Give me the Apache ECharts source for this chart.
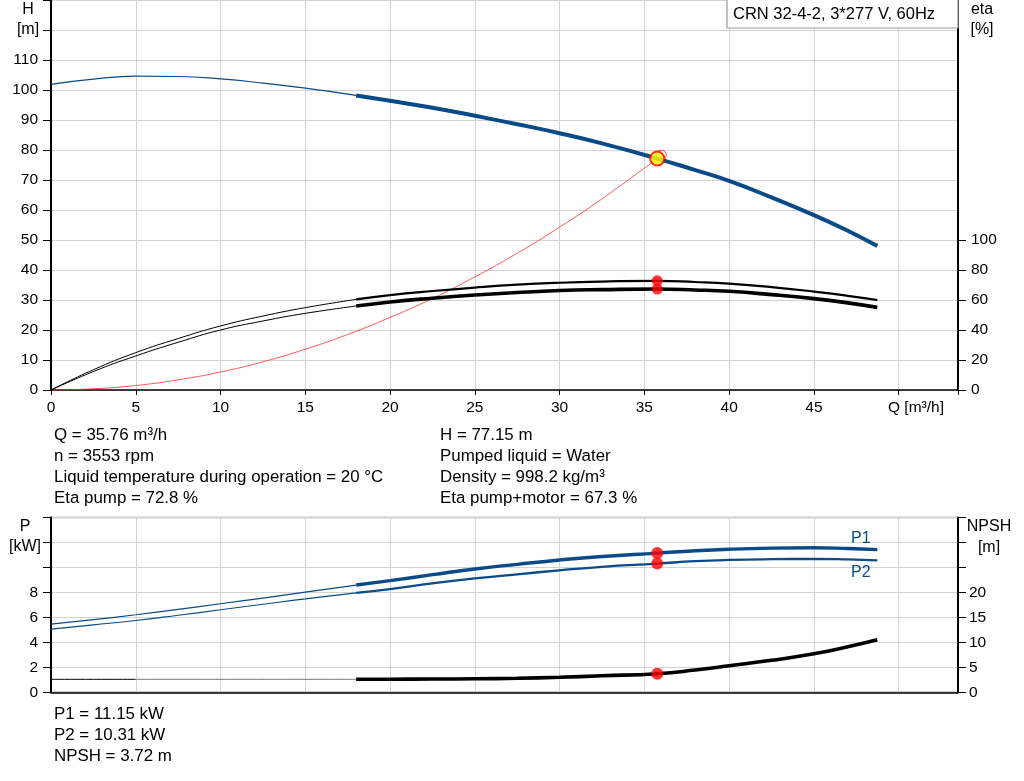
<!DOCTYPE html>
<html><head><meta charset="utf-8">
<script src="https://cdn.jsdelivr.net/npm/echarts@6/dist/echarts.min.js"></script>
<style>html,body{margin:0;padding:0;background:#fff}#c{width:1024px;height:781px}</style>
</head><body><div id="c"></div>
<script>
// ---- data ----
const qThin  = [0, 2.5, 5, 7.5, 10, 12.5, 15, 18];
const qThick = [18, 20, 22.5, 25, 27.5, 30, 32.5, 35.76, 38, 40, 42.5, 45, 47, 48.74];

const hThin  = [101.9, 103.6, 104.6, 104.5, 103.7, 102.3, 100.6, 98.2];
const hThick = [98.2, 96.4, 94.1, 91.4, 88.6, 85.6, 82.2, 77.15, 73.3, 69.7, 64.2, 58.3, 53.1, 48.0];

const etaPumpThin  = [0, 13.5, 24.9, 34.3, 42.7, 49.3, 54.9, 60.4];
const etaPumpThick = [60.4, 63.3, 66.0, 68.3, 70.2, 71.5, 72.3, 72.8, 72.0, 70.9, 68.6, 65.6, 62.8, 60.0];
const etaTotThin   = [0, 12.3, 22.7, 31.8, 40.0, 46.0, 51.1, 56.0];
const etaTotThick  = [56.0, 58.7, 61.2, 63.3, 65.0, 66.3, 66.9, 67.3, 66.7, 65.8, 63.6, 60.9, 58.1, 55.1];

const qSys = [0, 2.5, 5, 7.5, 10, 12.5, 15, 17.5, 20, 22.5, 25, 27.5, 30, 32.5, 35.76];
const hSys = [0, 0.4, 1.5, 3.4, 6.0, 9.4, 13.6, 18.5, 24.2, 30.5, 37.7, 45.6, 54.3, 63.7, 77.15];

const p1Thin  = [5.46, 5.82, 6.21, 6.64, 7.09, 7.55, 8.03, 8.59];
const p1Thick = [8.59, 8.94, 9.42, 9.88, 10.25, 10.6, 10.88, 11.15, 11.34, 11.46, 11.55, 11.58, 11.52, 11.43];
const p2Thin  = [5.06, 5.4, 5.75, 6.17, 6.61, 7.05, 7.49, 7.97];
const p2Thick = [7.97, 8.27, 8.72, 9.12, 9.45, 9.77, 10.05, 10.31, 10.5, 10.6, 10.66, 10.68, 10.64, 10.57];

const qNpshA = [0, 5],  npshA = [2.6, 2.6];
const qNpshB = [5, 18], npshB = [2.6, 2.6];
const npshThick = [2.6, 2.62, 2.65, 2.7, 2.8, 3.0, 3.3, 3.72, 4.45, 5.3, 6.4, 7.7, 9.1, 10.5];

const dutyQ = 35.76, dutyH = 77.15, dutyEtaPump = 72.8, dutyEtaTot = 67.3;
const dutyP1 = 11.15, dutyP2 = 10.31, dutyNpsh = 3.72;
const ghostPoint = [36.0, 78.3];

const xTickLabels = [0, 5, 10, 15, 20, 25, 30, 35, 40, 45];
const hTickLabelMax = 110;
const etaTicks = [0, 20, 40, 60, 80, 100];
const pTickLabelMax = 8;
const npshTickLabelMax = 20;

const infoLeft  = ['Q = 35.76 m³/h', 'n = 3553 rpm', 'Liquid temperature during operation = 20 °C', 'Eta pump = 72.8 %'];
const infoRight = ['H = 77.15 m', 'Pumped liquid = Water', 'Density = 998.2 kg/m³', 'Eta pump+motor = 67.3 %'];
const infoBottom = ['P1 = 11.15 kW', 'P2 = 10.31 kW', 'NPSH = 3.72 m'];
const titleText = 'CRN 32-4-2, 3*277 V, 60Hz';

// ---- chart ----
const FONT = 'Liberation Sans, Arial, sans-serif';
const BLUE = '#0b4a88';
const GRID = '#d3d3d3';
const zip = (xs, ys) => xs.map((x, i) => [x, ys[i]]);

function line(name, xs, ys, color, width, xi, yi, z) {
  return { type: 'line', name, data: zip(xs, ys), xAxisIndex: xi, yAxisIndex: yi,
    showSymbol: false, symbol: 'none', smooth: 0.5,
    lineStyle: { color, width }, z: z || 2, silent: true };
}

const xBase = {
  type: 'value', min: 0, max: 53.5, interval: 5,
  axisLine: { show: true, onZero: false, lineStyle: { color: '#000', width: 1.5 } },
  splitLine: { show: true, lineStyle: { color: GRID, width: 1 } }
};

const option = {
  animation: false,
  backgroundColor: '#fff',
  textStyle: { fontFamily: FONT },
  grid: [
    { left: 51, right: 66, top: 0, bottom: 391 },
    { left: 51, right: 66, top: 517.5, bottom: 88.7, show: true, borderColor: '#999', borderWidth: 1.5, backgroundColor: 'transparent' }
  ],
  xAxis: [
    Object.assign({}, xBase, { gridIndex: 0,
      axisTick: { show: true, length: 5, lineStyle: { color: '#000' } },
      axisLabel: { color: '#000', fontSize: 15.5, margin: 10, fontFamily: FONT,
        formatter: v => xTickLabels.indexOf(v) >= 0 ? String(v) : '' } }),
    Object.assign({}, xBase, { gridIndex: 1, axisTick: { show: false }, axisLabel: { show: false } })
  ],
  yAxis: [
    { type: 'value', gridIndex: 0, position: 'left', min: 0, max: 130, interval: 10,
      axisLine: { show: true, lineStyle: { color: '#000', width: 2 } },
      axisTick: { show: true, length: 8, lineStyle: { color: '#000' } },
      axisLabel: { color: '#000', fontSize: 15.5, margin: 13, fontFamily: FONT,
        formatter: v => v <= hTickLabelMax ? String(v) : '' },
      splitLine: { show: true, lineStyle: { color: GRID, width: 1 } } },
    { type: 'value', gridIndex: 0, position: 'right', min: 0, max: 260, interval: 20,
      axisLine: { show: true, lineStyle: { color: '#000', width: 2 } },
      axisTick: { show: true, length: 8, customValues: etaTicks, lineStyle: { color: '#000' } },
      axisLabel: { color: '#000', fontSize: 15.5, margin: 13, fontFamily: FONT, customValues: etaTicks,
        formatter: v => etaTicks.indexOf(v) >= 0 ? String(v) : '' },
      splitLine: { show: false } },
    { type: 'value', gridIndex: 1, position: 'left', min: 0, max: 14, interval: 2,
      axisLine: { show: true, lineStyle: { color: '#000', width: 2 } },
      axisTick: { show: true, length: 8, lineStyle: { color: '#000' } },
      axisLabel: { color: '#000', fontSize: 15.5, margin: 13, fontFamily: FONT,
        formatter: v => v <= pTickLabelMax ? String(v) : '' },
      splitLine: { show: true, lineStyle: { color: GRID, width: 1 } } },
    { type: 'value', gridIndex: 1, position: 'right', min: 0, max: 35, interval: 5,
      axisLine: { show: true, lineStyle: { color: '#000', width: 2 } },
      axisTick: { show: true, length: 8, lineStyle: { color: '#000' } },
      axisLabel: { color: '#000', fontSize: 15.5, margin: 11, fontFamily: FONT,
        formatter: v => v <= npshTickLabelMax ? String(v) : '' },
      splitLine: { show: false } }
  ],
  series: [
    line('system', qSys, hSys, '#ff3030', 0.8, 0, 0, 2),
    line('H thin', qThin, hThin, BLUE, 1.2, 0, 0, 3),
    line('H', qThick, hThick, BLUE, 4, 0, 0, 3),
    line('eta pump thin', qThin, etaPumpThin, '#000', 1, 0, 1, 3),
    line('eta pump', qThick, etaPumpThick, '#000', 2.2, 0, 1, 3),
    line('eta tot thin', qThin, etaTotThin, '#000', 1, 0, 1, 3),
    line('eta tot', qThick, etaTotThick, '#000', 3.6, 0, 1, 3),
    line('P1 thin', qThin, p1Thin, BLUE, 1.2, 1, 2, 3),
    line('P1', qThick, p1Thick, BLUE, 3.4, 1, 2, 3),
    line('P2 thin', qThin, p2Thin, BLUE, 1.2, 1, 2, 3),
    line('P2', qThick, p2Thick, BLUE, 2.3, 1, 2, 3),
    line('NPSH a', qNpshA, npshA, '#000', 1, 1, 3, 3),
    line('NPSH b', qNpshB, npshB, '#777', 1, 1, 3, 3),
    line('NPSH', qThick, npshThick, '#000', 3.6, 1, 3, 3),
    { type: 'scatter', xAxisIndex: 0, yAxisIndex: 0, data: [ghostPoint], symbolSize: 10, z: 5, silent: true,
      itemStyle: { color: 'rgba(0,0,0,0)', borderColor: '#ff2020', borderWidth: 1 } },
    { type: 'scatter', xAxisIndex: 0, yAxisIndex: 0, data: [[dutyQ, dutyH]], symbolSize: 14, z: 6, silent: true,
      itemStyle: { color: '#ffff00', borderColor: '#ff0000', borderWidth: 2 } },
    { type: 'scatter', xAxisIndex: 0, yAxisIndex: 1, data: [[dutyQ, dutyEtaPump], [dutyQ, dutyEtaTot]], symbolSize: 11, z: 6, silent: true,
      itemStyle: { color: '#ff0000' } },
    { type: 'scatter', xAxisIndex: 1, yAxisIndex: 2, data: [[dutyQ, dutyP1], [dutyQ, dutyP2]], symbolSize: 12, z: 6, silent: true,
      itemStyle: { color: '#ff0000' } },
    { type: 'scatter', xAxisIndex: 1, yAxisIndex: 3, data: [[dutyQ, dutyNpsh]], symbolSize: 12, z: 6, silent: true,
      itemStyle: { color: '#ff0000' } }
  ],
  graphic: []
};

function txt(x, y, text, align, color, size) {
  return { type: 'text', x, y, z: 100, silent: true,
    style: { text, fill: color || '#000', font: (size || 16) + 'px ' + FONT, textAlign: align || 'left', textVerticalAlign: 'middle' } };
}
const g = option.graphic;
g.push({ type: 'rect', z: 90, silent: true, shape: { x: 727, y: -1, width: 231, height: 29 },
  style: { fill: '#fff', stroke: '#999', lineWidth: 1.2 } });
g.push(txt(733, 14, titleText, 'left', '#000', 16.5));
g.push(txt(28, 10, 'H', 'center', '#000', 16));
g.push(txt(28, 30, '[m]', 'center', '#000', 16));
g.push(txt(982, 10, 'eta', 'center', '#000', 16));
g.push(txt(982, 30, '[%]', 'center', '#000', 16));
g.push(txt(25, 527, 'P', 'center', '#000', 16));
g.push(txt(25, 547, '[kW]', 'center', '#000', 16));
g.push(txt(989, 527, 'NPSH', 'center', '#000', 16));
g.push(txt(989, 548, '[m]', 'center', '#000', 16));
g.push(txt(888, 408, 'Q [m³/h]', 'left', '#000', 15.5));
g.push(txt(851, 539, 'P1', 'left', BLUE, 16));
g.push(txt(851, 573, 'P2', 'left', BLUE, 16));
infoLeft.forEach((t, i) => g.push(txt(54, 435 + i * 21, t, 'left', '#000', 16.9)));
infoRight.forEach((t, i) => g.push(txt(440, 435 + i * 21, t, 'left', '#000', 16.9)));
infoBottom.forEach((t, i) => g.push(txt(54, 714 + i * 21, t, 'left', '#000', 16.9)));

const chart = echarts.init(document.getElementById('c'), null, { renderer: 'canvas' });
chart.setOption(option);
</script></body></html>
